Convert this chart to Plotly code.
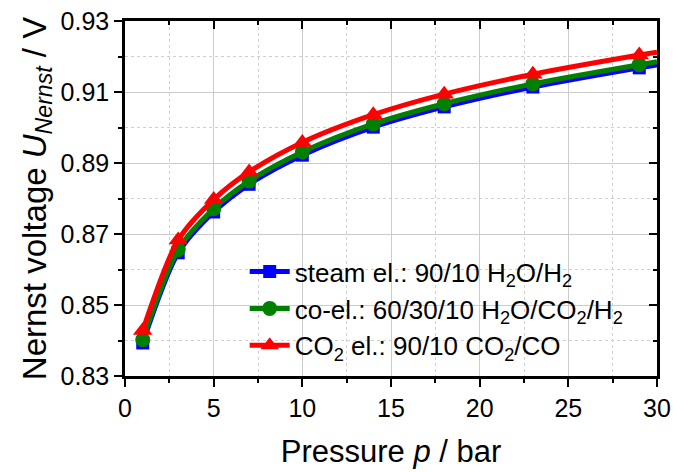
import plotly.graph_objects as go

# Pressure (bar) and Nernst voltage (V) for the three electrolysis modes
pressure = [1, 3, 5, 7, 10, 14, 18, 23, 29, 30]
u_steam = [0.8393, 0.8647, 0.8762, 0.8840, 0.8922, 0.9001, 0.9058, 0.9114, 0.9168, 0.9176]
u_coel = [0.8402, 0.8656, 0.8771, 0.8849, 0.8931, 0.9010, 0.9067, 0.9123, 0.9177, 0.9185]
u_co2 = [0.8428, 0.8683, 0.8797, 0.8875, 0.8958, 0.9036, 0.9094, 0.9150, 0.9204, 0.9212]

names = [
    "steam el.: 90/10 H<sub>2</sub>O/H<sub>2</sub>",
    "co-el.: 60/30/10 H<sub>2</sub>O/CO<sub>2</sub>/H<sub>2</sub>",
    "CO<sub>2</sub> el.: 90/10 CO<sub>2</sub>/CO",
]
colors = ["#0000ff", "#008000", "#ff0000"]
symbols = ["square", "circle", "triangle-up"]
msizes = [13, 15, 17]

FONT = "Liberation Sans, Arial, sans-serif"

fig = go.Figure()
for yv, nm, c, s, ms in zip([u_steam, u_coel, u_co2], names, colors, symbols, msizes):
    # measured points (markers + smooth curve)
    fig.add_trace(go.Scatter(
        x=pressure[:-1], y=yv[:-1], name=nm, mode="lines+markers",
        line=dict(color=c, width=5, shape="spline", smoothing=0.8),
        marker=dict(symbol=s, size=ms, color=c, line=dict(width=0)),
    ))
    # curve continues to 30 bar without a marker
    fig.add_trace(go.Scatter(
        x=pressure[-2:], y=yv[-2:], mode="lines", showlegend=False,
        line=dict(color=c, width=5), hoverinfo="skip",
    ))

# empty trace so the mirrored top/right axes get drawn
fig.add_trace(go.Scatter(x=[], y=[], xaxis="x2", yaxis="y2",
                         showlegend=False, hoverinfo="skip"))

axis_common = dict(showline=True, linecolor="black", linewidth=2.5, automargin=False,
                   ticks="outside", tickcolor="black", tickwidth=2, ticklen=8,
                   zeroline=False, tickfont=dict(size=25, color="black", family=FONT))

fig.update_layout(
    width=673, height=472,
    margin=dict(l=125, r=16, t=21, b=96),
    paper_bgcolor="white", plot_bgcolor="white",
    font=dict(family=FONT, color="black"),
    xaxis=dict(
        range=[0, 30], tick0=0, dtick=5, **axis_common,
        showgrid=True, gridcolor="#cccccc", gridwidth=1,
        minor=dict(dtick=2.5, ticks="outside", ticklen=4, tickwidth=2, tickcolor="black",
                   showgrid=True, gridcolor="#d0d0d0", griddash="dot", gridwidth=1),
        title=dict(text="Pressure <i>p</i> / bar", font=dict(size=31), standoff=20),
    ),
    yaxis=dict(
        range=[0.83, 0.93], tick0=0.83, dtick=0.02, tickformat=".2f", **axis_common,
        showgrid=True, gridcolor="#cccccc", gridwidth=1,
        minor=dict(dtick=0.01, ticks="outside", ticklen=4, tickwidth=2, tickcolor="black",
                   showgrid=True, gridcolor="#d0d0d0", griddash="dot", gridwidth=1),
        title=dict(text="Nernst voltage <i>U</i><sub><i>Nernst</i></sub> / V",
                   font=dict(size=33), standoff=5),
    ),
    xaxis2=dict(
        overlaying="x", side="top", range=[0, 30], tick0=0, dtick=5,
        showline=True, linecolor="black", linewidth=2.5, automargin=False,
        ticks="inside", tickcolor="black", tickwidth=2, ticklen=8,
        showticklabels=False, showgrid=False, zeroline=False,
        minor=dict(dtick=2.5, ticks="inside", ticklen=4, tickwidth=2, tickcolor="black"),
    ),
    yaxis2=dict(
        overlaying="y", side="right", range=[0.83, 0.93], tick0=0.83, dtick=0.02,
        showline=True, linecolor="black", linewidth=2.5, automargin=False,
        ticks="inside", tickcolor="black", tickwidth=2, ticklen=8,
        showticklabels=False, showgrid=False, zeroline=False,
        minor=dict(dtick=0.01, ticks="inside", ticklen=4, tickwidth=2, tickcolor="black"),
    ),
    legend=dict(
        x=0.225, y=0.36, xanchor="left", yanchor="top",
        bgcolor="rgba(0,0,0,0)", font=dict(size=26, family=FONT),
        tracegroupgap=0, itemwidth=40,
    ),
    showlegend=True,
)

fig.write_html("out.html")
